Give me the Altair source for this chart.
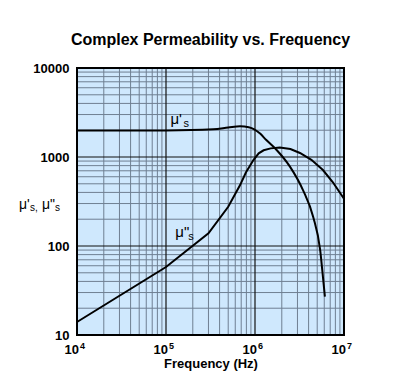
import altair as alt
import pandas as pd

# data
mu_s_freq = [1e4, 1e5, 3.4e5, 5e5, 6.8e5, 8.5e5, 9.8e5, 1.15e6, 1.34e6, 1.75e6, 2.47e6, 3.46e6, 4.5e6, 5.4e6, 5.8e6, 6.1e6]
mu_s_val = [1980, 1990, 2045, 2140, 2215, 2160, 2050, 1820, 1550, 1200, 780, 425, 213, 90, 45, 27]

mu_ss_freq = [1e4, 1e5, 3e5, 5e5, 6.8e5, 7.9e5, 9.6e5, 1.1e6, 1.25e6, 1.5e6, 1.9e6, 2.5e6, 3.2e6, 4.3e6, 5.8e6, 7.5e6, 1e7]
mu_ss_val = [14, 58, 139, 276, 484, 670, 925, 1100, 1190, 1250, 1280, 1230, 1110, 930, 714, 520, 340]

x_ticks = [1e4, 1e5, 1e6, 1e7]
x_tick_exponents = ["4", "5", "6", "7"]
y_ticks = [10, 100, 1000, 10000]

grid_x_minor = [m * 10 ** e for e in (4, 5, 6) for m in range(2, 10)]
grid_y_minor = [m * 10 ** e for e in (1, 2, 3) for m in range(2, 10)]

FONT = "Liberation Sans"
xs = alt.Scale(type="log", domain=[1e4, 1e7], nice=False)
ys = alt.Scale(type="log", domain=[10, 10000], nice=False)

bg = alt.Chart(pd.DataFrame({"x": [1e4], "x2": [1e7], "y": [10], "y2": [10000]})).mark_rect(
    color="#cfe8fd"
).encode(
    x=alt.X("x:Q", scale=xs, axis=alt.Axis(
        values=x_ticks, labels=False, title="Frequency (Hz)",
        titleFont=FONT, titleFontSize=13, titleFontWeight="bold", titleColor="black",
        grid=False, ticks=False, domain=False, titlePadding=22)),
    x2="x2:Q",
    y=alt.Y("y:Q", scale=ys, axis=alt.Axis(
        values=y_ticks, format="d", title=None,
        labelFont=FONT, labelFontSize=13, labelFontWeight="bold", labelColor="black",
        grid=False, ticks=False, domain=False, labelPadding=8)),
    y2="y2:Q",
)

gx_minor = alt.Chart(pd.DataFrame({"v": grid_x_minor})).mark_rule(color="#6f7f92", strokeWidth=1).encode(
    x=alt.X("v:Q", scale=xs))
gy_minor = alt.Chart(pd.DataFrame({"v": grid_y_minor})).mark_rule(color="#6f7f92", strokeWidth=1).encode(
    y=alt.Y("v:Q", scale=ys))
gx_major = alt.Chart(pd.DataFrame({"v": x_ticks})).mark_rule(color="#111111", strokeWidth=1.2).encode(
    x=alt.X("v:Q", scale=xs))
gy_major = alt.Chart(pd.DataFrame({"v": y_ticks})).mark_rule(color="#111111", strokeWidth=1.2).encode(
    y=alt.Y("v:Q", scale=ys))

line_s = alt.Chart(pd.DataFrame({"f": mu_s_freq, "v": mu_s_val})).mark_line(
    color="black", strokeWidth=2, interpolate="monotone").encode(
    x=alt.X("f:Q", scale=xs), y=alt.Y("v:Q", scale=ys))
line_ss = alt.Chart(pd.DataFrame({"f": mu_ss_freq, "v": mu_ss_val})).mark_line(
    color="black", strokeWidth=2, interpolate="linear").encode(
    x=alt.X("f:Q", scale=xs), y=alt.Y("v:Q", scale=ys))

frame = alt.Chart(pd.DataFrame({"x": [1e4], "x2": [1e7], "y": [10], "y2": [10000]})).mark_rect(
    fill=None, stroke="black", strokeWidth=2).encode(
    x=alt.X("x:Q", scale=xs), x2="x2:Q", y=alt.Y("y:Q", scale=ys), y2="y2:Q")

# x tick labels as base "10" plus superscript exponent
xl_df = pd.DataFrame({"f": x_ticks, "e": x_tick_exponents})
xl_base = alt.Chart(xl_df).mark_text(
    text="10", font=FONT, fontSize=13, fontWeight="bold", align="right", baseline="alphabetic",
    dx=2, color="black").encode(x=alt.X("f:Q", scale=xs), y=alt.value(286))
xl_exp = alt.Chart(xl_df).mark_text(
    font=FONT, fontSize=9, fontWeight="bold", align="left", baseline="alphabetic",
    dx=3, dy=-5, color="black").encode(x=alt.X("f:Q", scale=xs), y=alt.value(286), text="e:N")

# curve labels (in data coordinates)
lab_s_f, lab_s_v = [1.12e5], [2350]
lab_ss_f, lab_ss_v = [1.27e5], [125]

def txt(f, v, t, size, dx=0, dy=0):
    return alt.Chart(pd.DataFrame({"f": f, "v": v})).mark_text(
        text=t, font=FONT, fontSize=size, align="left", baseline="alphabetic", dx=dx, dy=dy,
        color="black").encode(x=alt.X("f:Q", scale=xs), y=alt.Y("v:Q", scale=ys))

labels = [
    txt(lab_s_f, lab_s_v, "μ'", 15),
    txt(lab_s_f, lab_s_v, "s", 11, dx=13, dy=3),
    txt(lab_ss_f, lab_ss_v, "μ\"", 15),
    txt(lab_ss_f, lab_ss_v, "s", 11, dx=13, dy=3),
]

def ytitle(t, size, xpx, dy=0):
    return alt.Chart(pd.DataFrame({"a": [0]})).mark_text(
        text=t, font=FONT, fontSize=size, align="left", baseline="alphabetic", dy=dy,
        color="black").encode(x=alt.value(xpx), y=alt.value(141))

ytitles = [
    ytitle("μ'", 14, -58),
    ytitle("s,", 10, -47, dy=2),
    ytitle("μ\"", 14, -35),
    ytitle("s", 10, -22, dy=2),
]

chart = alt.layer(bg, gx_minor, gy_minor, gx_major, gy_major, line_s, line_ss, frame,
                  xl_base, xl_exp, *labels, *ytitles).properties(
    width=267, height=267,
    title=alt.Title("Complex Permeability vs. Frequency", font=FONT, fontSize=16, fontWeight="bold",
                    color="black", offset=14),
    autosize=alt.AutoSizeParams(type="none"),
    padding={"left": 69, "top": 60, "right": 56, "bottom": 37},
).configure_view(stroke=None)

chart.save("out.html", embed_options={"renderer": "svg", "actions": False})
